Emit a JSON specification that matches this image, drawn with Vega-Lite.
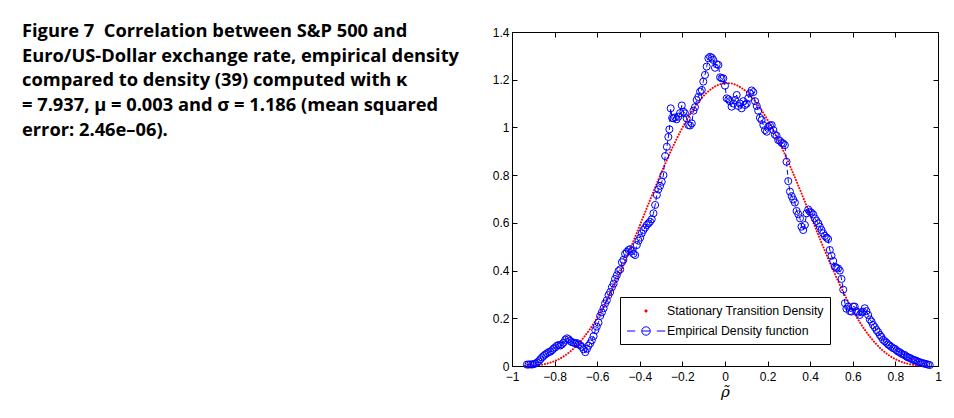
{
  "$schema": "https://vega.github.io/schema/vega-lite/v6.json",
  "autosize": "none",
  "width": 426,
  "height": 334,
  "padding": {"left": 512, "top": 32, "right": 16, "bottom": 52},
  "background": "white",
  "title": {
    "text": ["Figure 7\u00a0 Correlation between S&P 500 and", "Euro/US-Dollar exchange rate, empirical density", "compared to density (39) computed with κ", "= 7.937, μ = 0.003 and σ = 1.186 (mean squared", "error: 2.46e–06)."],
    "orient": "top", "anchor": "start", "frame": "group", "align": "left", "baseline": "top",
    "dx": -490, "dy": 126, "offset": 12,
    "font": "Open Sans", "fontSize": 18.3, "fontWeight": "bold", "lineHeight": 24.7, "color": "black"
  },
  "datasets": {
    "theory": [
      {"rho": -0.94, "density": 0.0002}, {"rho": -0.89, "density": 0.0022}, {"rho": -0.84, "density": 0.0091},
      {"rho": -0.79, "density": 0.0244}, {"rho": -0.74, "density": 0.0512}, {"rho": -0.69, "density": 0.0918},
      {"rho": -0.64, "density": 0.1473}, {"rho": -0.59, "density": 0.2176}, {"rho": -0.54, "density": 0.3017},
      {"rho": -0.49, "density": 0.3975}, {"rho": -0.44, "density": 0.5019}, {"rho": -0.39, "density": 0.6114},
      {"rho": -0.34, "density": 0.7218}, {"rho": -0.29, "density": 0.8288}, {"rho": -0.24, "density": 0.928},
      {"rho": -0.19, "density": 1.0156}, {"rho": -0.14, "density": 1.0877}, {"rho": -0.09, "density": 1.1416},
      {"rho": -0.04, "density": 1.1748}, {"rho": 0.01, "density": 1.186}, {"rho": 0.06, "density": 1.1748},
      {"rho": 0.11, "density": 1.1416}, {"rho": 0.16, "density": 1.0877}, {"rho": 0.21, "density": 1.0156},
      {"rho": 0.26, "density": 0.928}, {"rho": 0.31, "density": 0.8288}, {"rho": 0.36, "density": 0.7218},
      {"rho": 0.41, "density": 0.6114}, {"rho": 0.46, "density": 0.5019}, {"rho": 0.51, "density": 0.3975},
      {"rho": 0.56, "density": 0.3017}, {"rho": 0.61, "density": 0.2176}, {"rho": 0.66, "density": 0.1473},
      {"rho": 0.71, "density": 0.0918}, {"rho": 0.76, "density": 0.0512}, {"rho": 0.81, "density": 0.0244},
      {"rho": 0.86, "density": 0.0091}, {"rho": 0.91, "density": 0.0022}, {"rho": 0.96, "density": 0.0002}
    ],
    "empirical": [
      {"rho": -0.930, "density": 0.006}, {"rho": -0.922, "density": 0.006}, {"rho": -0.914, "density": 0.007},
      {"rho": -0.906, "density": 0.006}, {"rho": -0.898, "density": 0.008}, {"rho": -0.891, "density": 0.010},
      {"rho": -0.883, "density": 0.014}, {"rho": -0.875, "density": 0.020}, {"rho": -0.867, "density": 0.028},
      {"rho": -0.859, "density": 0.036}, {"rho": -0.852, "density": 0.042}, {"rho": -0.844, "density": 0.048},
      {"rho": -0.836, "density": 0.053}, {"rho": -0.828, "density": 0.058}, {"rho": -0.820, "density": 0.060},
      {"rho": -0.812, "density": 0.066}, {"rho": -0.805, "density": 0.073}, {"rho": -0.797, "density": 0.078},
      {"rho": -0.789, "density": 0.085}, {"rho": -0.781, "density": 0.088}, {"rho": -0.773, "density": 0.086},
      {"rho": -0.766, "density": 0.090}, {"rho": -0.758, "density": 0.098}, {"rho": -0.750, "density": 0.110},
      {"rho": -0.742, "density": 0.116}, {"rho": -0.734, "density": 0.112}, {"rho": -0.727, "density": 0.105},
      {"rho": -0.719, "density": 0.100}, {"rho": -0.711, "density": 0.098}, {"rho": -0.703, "density": 0.095},
      {"rho": -0.695, "density": 0.096}, {"rho": -0.688, "density": 0.090}, {"rho": -0.680, "density": 0.088},
      {"rho": -0.672, "density": 0.080}, {"rho": -0.664, "density": 0.070}, {"rho": -0.656, "density": 0.058},
      {"rho": -0.648, "density": 0.072}, {"rho": -0.641, "density": 0.085}, {"rho": -0.633, "density": 0.095},
      {"rho": -0.625, "density": 0.108}, {"rho": -0.617, "density": 0.125}, {"rho": -0.609, "density": 0.150},
      {"rho": -0.602, "density": 0.165}, {"rho": -0.594, "density": 0.182}, {"rho": -0.586, "density": 0.210},
      {"rho": -0.578, "density": 0.225}, {"rho": -0.570, "density": 0.242}, {"rho": -0.563, "density": 0.262},
      {"rho": -0.555, "density": 0.275}, {"rho": -0.547, "density": 0.297}, {"rho": -0.539, "density": 0.310},
      {"rho": -0.531, "density": 0.330}, {"rho": -0.523, "density": 0.345}, {"rho": -0.516, "density": 0.365},
      {"rho": -0.508, "density": 0.380}, {"rho": -0.500, "density": 0.398}, {"rho": -0.492, "density": 0.405},
      {"rho": -0.484, "density": 0.435}, {"rho": -0.477, "density": 0.445}, {"rho": -0.469, "density": 0.470},
      {"rho": -0.461, "density": 0.478}, {"rho": -0.453, "density": 0.486}, {"rho": -0.445, "density": 0.490},
      {"rho": -0.437, "density": 0.482}, {"rho": -0.430, "density": 0.470}, {"rho": -0.422, "density": 0.465},
      {"rho": -0.414, "density": 0.507}, {"rho": -0.406, "density": 0.525}, {"rho": -0.398, "density": 0.538},
      {"rho": -0.391, "density": 0.556}, {"rho": -0.383, "density": 0.570}, {"rho": -0.375, "density": 0.580},
      {"rho": -0.367, "density": 0.591}, {"rho": -0.359, "density": 0.598}, {"rho": -0.352, "density": 0.605},
      {"rho": -0.344, "density": 0.615}, {"rho": -0.336, "density": 0.640}, {"rho": -0.328, "density": 0.675},
      {"rho": -0.320, "density": 0.717}, {"rho": -0.313, "density": 0.740}, {"rho": -0.305, "density": 0.755},
      {"rho": -0.297, "density": 0.772}, {"rho": -0.289, "density": 0.800}, {"rho": -0.281, "density": 0.880},
      {"rho": -0.273, "density": 0.919}, {"rho": -0.266, "density": 0.960}, {"rho": -0.261, "density": 0.992},
      {"rho": -0.255, "density": 1.080}, {"rho": -0.248, "density": 1.040}, {"rho": -0.242, "density": 1.038},
      {"rho": -0.234, "density": 1.042}, {"rho": -0.227, "density": 1.034}, {"rho": -0.219, "density": 1.045},
      {"rho": -0.211, "density": 1.060}, {"rho": -0.203, "density": 1.092}, {"rho": -0.195, "density": 1.066},
      {"rho": -0.188, "density": 1.059}, {"rho": -0.180, "density": 1.038}, {"rho": -0.172, "density": 1.010},
      {"rho": -0.164, "density": 1.008}, {"rho": -0.156, "density": 1.017}, {"rho": -0.148, "density": 1.070},
      {"rho": -0.141, "density": 1.085}, {"rho": -0.133, "density": 1.115}, {"rho": -0.125, "density": 1.128},
      {"rho": -0.117, "density": 1.150}, {"rho": -0.109, "density": 1.157}, {"rho": -0.102, "density": 1.192},
      {"rho": -0.094, "density": 1.220}, {"rho": -0.086, "density": 1.255}, {"rho": -0.078, "density": 1.290},
      {"rho": -0.070, "density": 1.296}, {"rho": -0.062, "density": 1.292}, {"rho": -0.055, "density": 1.283},
      {"rho": -0.047, "density": 1.250}, {"rho": -0.039, "density": 1.265}, {"rho": -0.031, "density": 1.262},
      {"rho": -0.023, "density": 1.210}, {"rho": -0.016, "density": 1.206}, {"rho": -0.008, "density": 1.206},
      {"rho": 0.000, "density": 1.175}, {"rho": 0.008, "density": 1.122}, {"rho": 0.016, "density": 1.118},
      {"rho": 0.023, "density": 1.110}, {"rho": 0.031, "density": 1.087}, {"rho": 0.039, "density": 1.100},
      {"rho": 0.047, "density": 1.115}, {"rho": 0.055, "density": 1.136}, {"rho": 0.062, "density": 1.090},
      {"rho": 0.070, "density": 1.100}, {"rho": 0.078, "density": 1.080}, {"rho": 0.086, "density": 1.110},
      {"rho": 0.094, "density": 1.094}, {"rho": 0.102, "density": 1.100}, {"rho": 0.109, "density": 1.122},
      {"rho": 0.117, "density": 1.143}, {"rho": 0.125, "density": 1.155}, {"rho": 0.133, "density": 1.148},
      {"rho": 0.141, "density": 1.110}, {"rho": 0.149, "density": 1.090}, {"rho": 0.156, "density": 1.070},
      {"rho": 0.164, "density": 1.040}, {"rho": 0.172, "density": 1.031}, {"rho": 0.180, "density": 1.010},
      {"rho": 0.188, "density": 0.989}, {"rho": 0.196, "density": 0.982}, {"rho": 0.203, "density": 1.003},
      {"rho": 0.211, "density": 1.008}, {"rho": 0.219, "density": 1.010}, {"rho": 0.227, "density": 0.989},
      {"rho": 0.234, "density": 0.970}, {"rho": 0.242, "density": 0.965}, {"rho": 0.250, "density": 0.947},
      {"rho": 0.258, "density": 0.944}, {"rho": 0.266, "density": 0.935}, {"rho": 0.273, "density": 0.933},
      {"rho": 0.281, "density": 0.926}, {"rho": 0.289, "density": 0.856}, {"rho": 0.297, "density": 0.775},
      {"rho": 0.305, "density": 0.731}, {"rho": 0.313, "density": 0.712}, {"rho": 0.320, "density": 0.698},
      {"rho": 0.328, "density": 0.685}, {"rho": 0.336, "density": 0.650}, {"rho": 0.344, "density": 0.636},
      {"rho": 0.352, "density": 0.619}, {"rho": 0.359, "density": 0.584}, {"rho": 0.367, "density": 0.570},
      {"rho": 0.375, "density": 0.591}, {"rho": 0.383, "density": 0.640}, {"rho": 0.391, "density": 0.656},
      {"rho": 0.398, "density": 0.647}, {"rho": 0.406, "density": 0.642}, {"rho": 0.414, "density": 0.635},
      {"rho": 0.422, "density": 0.619}, {"rho": 0.430, "density": 0.608}, {"rho": 0.438, "density": 0.598},
      {"rho": 0.445, "density": 0.584}, {"rho": 0.453, "density": 0.570}, {"rho": 0.461, "density": 0.556},
      {"rho": 0.469, "density": 0.545}, {"rho": 0.477, "density": 0.538}, {"rho": 0.484, "density": 0.532},
      {"rho": 0.492, "density": 0.486}, {"rho": 0.500, "density": 0.462}, {"rho": 0.508, "density": 0.440},
      {"rho": 0.516, "density": 0.416}, {"rho": 0.523, "density": 0.412}, {"rho": 0.531, "density": 0.409},
      {"rho": 0.539, "density": 0.400}, {"rho": 0.547, "density": 0.365}, {"rho": 0.555, "density": 0.320},
      {"rho": 0.563, "density": 0.263}, {"rho": 0.570, "density": 0.240}, {"rho": 0.578, "density": 0.249},
      {"rho": 0.586, "density": 0.230}, {"rho": 0.594, "density": 0.228}, {"rho": 0.602, "density": 0.249},
      {"rho": 0.609, "density": 0.249}, {"rho": 0.617, "density": 0.230}, {"rho": 0.625, "density": 0.224},
      {"rho": 0.633, "density": 0.214}, {"rho": 0.641, "density": 0.225}, {"rho": 0.648, "density": 0.228},
      {"rho": 0.656, "density": 0.242}, {"rho": 0.664, "density": 0.230}, {"rho": 0.672, "density": 0.214},
      {"rho": 0.680, "density": 0.195}, {"rho": 0.688, "density": 0.186}, {"rho": 0.695, "density": 0.172},
      {"rho": 0.703, "density": 0.163}, {"rho": 0.711, "density": 0.151}, {"rho": 0.719, "density": 0.142},
      {"rho": 0.727, "density": 0.130}, {"rho": 0.734, "density": 0.122}, {"rho": 0.742, "density": 0.110},
      {"rho": 0.750, "density": 0.104}, {"rho": 0.758, "density": 0.098}, {"rho": 0.766, "density": 0.090},
      {"rho": 0.773, "density": 0.086}, {"rho": 0.781, "density": 0.080}, {"rho": 0.789, "density": 0.075},
      {"rho": 0.797, "density": 0.072}, {"rho": 0.805, "density": 0.066}, {"rho": 0.813, "density": 0.060},
      {"rho": 0.820, "density": 0.058}, {"rho": 0.828, "density": 0.052}, {"rho": 0.836, "density": 0.048},
      {"rho": 0.844, "density": 0.046}, {"rho": 0.852, "density": 0.040}, {"rho": 0.859, "density": 0.036},
      {"rho": 0.867, "density": 0.034}, {"rho": 0.875, "density": 0.030}, {"rho": 0.883, "density": 0.026},
      {"rho": 0.891, "density": 0.024}, {"rho": 0.898, "density": 0.022}, {"rho": 0.906, "density": 0.018},
      {"rho": 0.914, "density": 0.016}, {"rho": 0.922, "density": 0.013}, {"rho": 0.930, "density": 0.011},
      {"rho": 0.937, "density": 0.010}, {"rho": 0.945, "density": 0.008}, {"rho": 0.953, "density": 0.006},
      {"rho": 0.961, "density": 0.004}
    ]
  },
  "layer": [
    {
      "data": {"name": "theory"},
      "mark": {"type": "line", "strokeDash": [0.1, 2.8], "strokeCap": "round", "strokeWidth": 2, "interpolate": "monotone"},
      "encoding": {
        "x": {"field": "rho", "type": "quantitative", "scale": {"domain": [-1, 1], "nice": false},
          "axis": {"orient": "bottom", "values": [-1, -0.8, -0.6, -0.4, -0.2, 0, 0.2, 0.4, 0.6, 0.8, 1], "format": "~g",
            "tickSize": -5, "labelPadding": 10, "labelFlush": false, "labelOverlap": false, "grid": false,
            "title": "ρ̃", "titleFont": "DejaVu Serif", "titleFontStyle": "italic", "titleFontWeight": "normal",
            "titleFontSize": 15, "titlePadding": 2, "titleColor": "black"}},
        "y": {"field": "density", "type": "quantitative", "scale": {"domain": [0, 1.4], "nice": false},
          "axis": {"orient": "left", "values": [0, 0.2, 0.4, 0.6, 0.8, 1, 1.2, 1.4], "format": "~g",
            "tickSize": -5, "labelPadding": 8, "labelOverlap": false, "grid": false, "title": null}},
        "color": {"datum": "Stationary Transition Density", "type": "nominal",
          "scale": {"domain": ["Stationary Transition Density", "Empirical Density function"], "range": ["#ff0000", "#0000ff"]},
          "legend": {
            "encode": {
              "symbols": {
                "update": {
                  "shape": {"signal": "datum.value === 'Empirical Density function' ? 'M-2.53,0L-1.44,0M-0.56,0A0.56,0.56,0,1,1,0.56,0A0.56,0.56,0,1,1,-0.56,0M-0.56,0L0.56,0M1.45,0L2.56,0' : 'M-0.16,0A0.16,0.16,0,1,1,0.16,0A0.16,0.16,0,1,1,-0.16,0Z'"},
                  "fill": {"signal": "datum.value === 'Empirical Density function' ? 'transparent' : '#ff0000'"},
                  "stroke": {"signal": "datum.value === 'Empirical Density function' ? '#0000ff' : 'transparent'"},
                  "strokeWidth": {"value": 1},
                  "size": {"value": 225},
                  "opacity": {"value": 1}
                }
              }
            }
          }}
      }
    },
    {
      "data": {"name": "empirical"},
      "mark": {"type": "line", "strokeDash": [5, 3], "strokeWidth": 1},
      "encoding": {
        "x": {"field": "rho", "type": "quantitative",
          "axis": {"orient": "top", "values": [-1, -0.8, -0.6, -0.4, -0.2, 0, 0.2, 0.4, 0.6, 0.8, 1], "labels": false,
            "tickSize": -5, "grid": false, "title": null}},
        "y": {"field": "density", "type": "quantitative",
          "axis": {"orient": "right", "values": [0, 0.2, 0.4, 0.6, 0.8, 1, 1.2, 1.4], "labels": false,
            "tickSize": -5, "grid": false, "title": null}},
        "color": {"datum": "Empirical Density function", "type": "nominal"}
      }
    },
    {
      "data": {"name": "empirical"},
      "mark": {"type": "point", "shape": "circle", "filled": false, "size": 50, "strokeWidth": 1, "opacity": 1},
      "encoding": {
        "x": {"field": "rho", "type": "quantitative", "axis": null},
        "y": {"field": "density", "type": "quantitative", "axis": null},
        "color": {"datum": "Empirical Density function", "type": "nominal"}
      }
    }
  ],
  "resolve": {"axis": {"x": "independent", "y": "independent"}},
  "config": {
    "view": {"stroke": "black", "strokeWidth": 1},
    "axis": {"domainColor": "black", "tickColor": "black", "labelColor": "black", "labelFont": "Liberation Sans",
      "labelFontSize": 12, "domainWidth": 1, "tickWidth": 1},
    "legend": {
      "orient": "none", "legendX": 108, "legendY": 265, "title": null,
      "strokeColor": "black", "fillColor": "white", "padding": 6, "cornerRadius": 0,
      "labelFont": "Liberation Sans", "labelFontSize": 12.3, "labelColor": "black",
      "symbolSize": 225, "symbolOffset": 12, "labelOffset": 13, "rowPadding": 5
    }
  }
}
